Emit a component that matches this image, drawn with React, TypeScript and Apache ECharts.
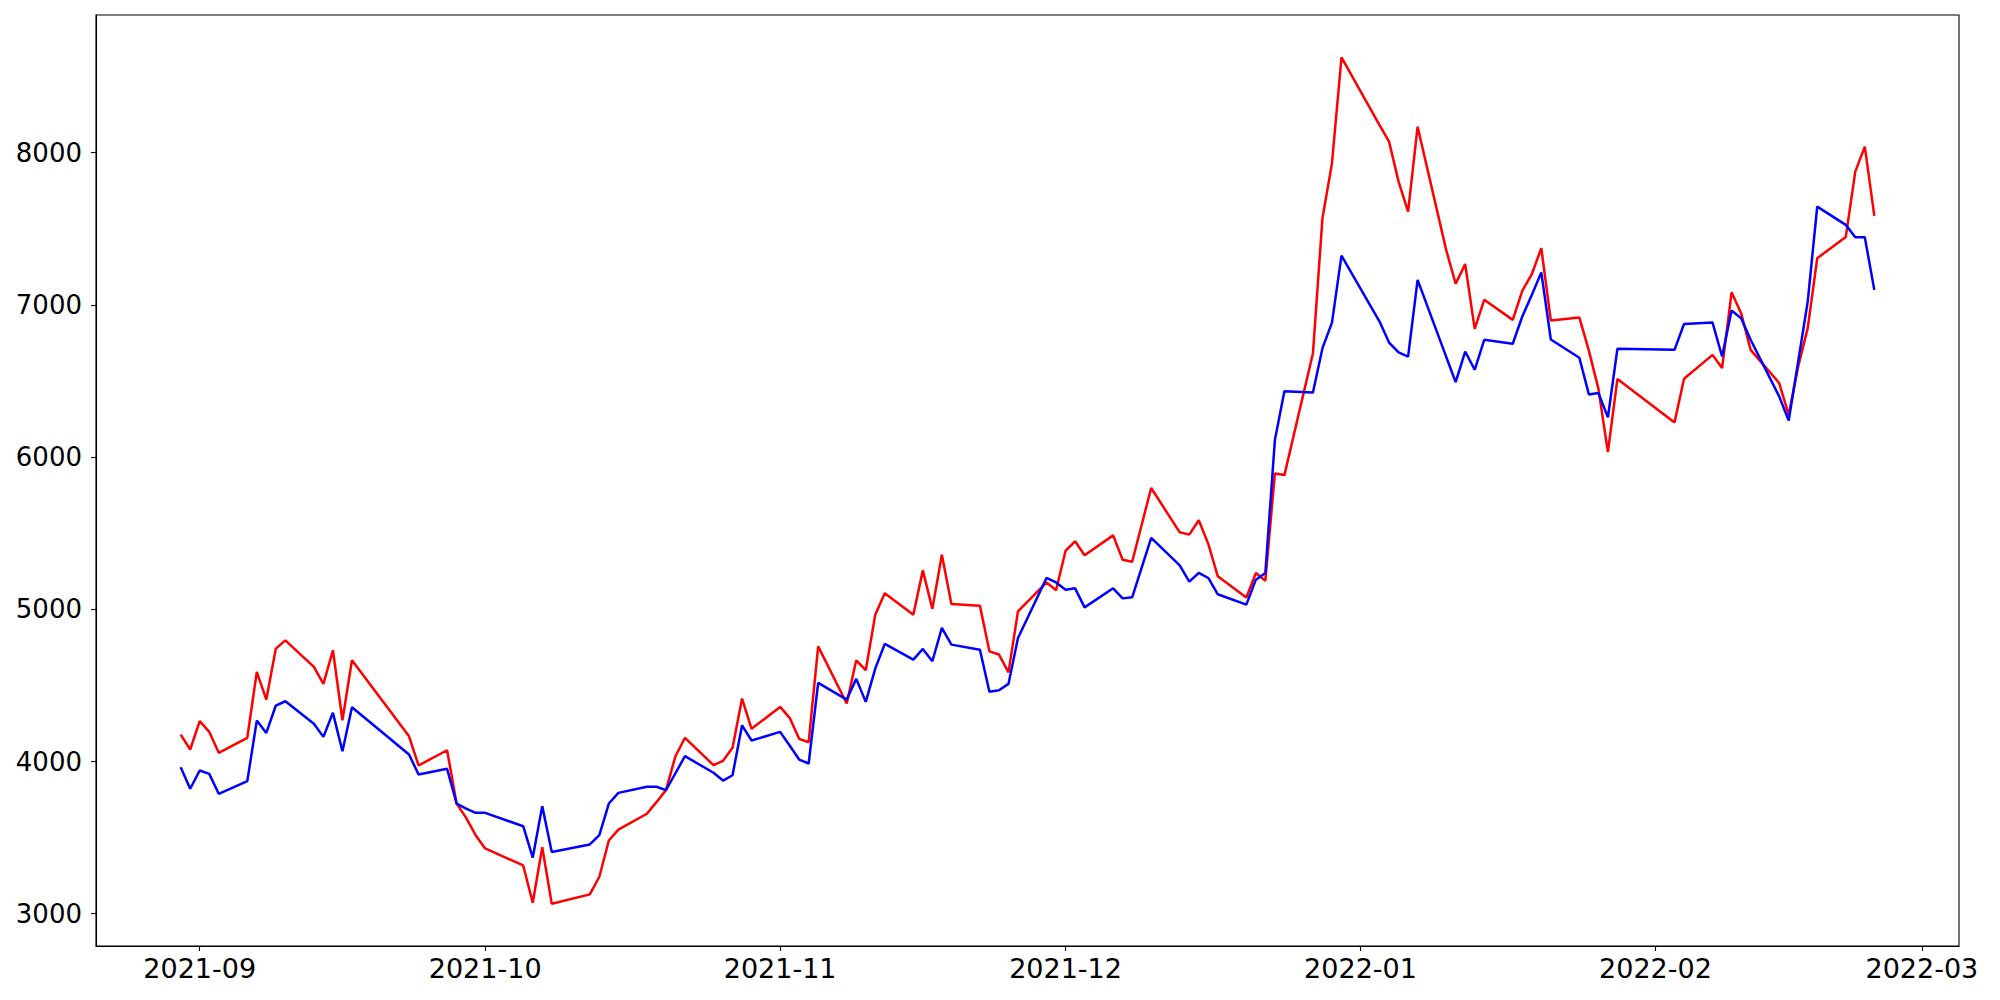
import React, { useEffect, useRef } from "react";
import * as echarts from "echarts";

const dates: string[] = [
  "2021-08-30", "2021-08-31", "2021-09-01", "2021-09-02", "2021-09-03",
  "2021-09-06", "2021-09-07", "2021-09-08", "2021-09-09", "2021-09-10",
  "2021-09-13", "2021-09-14", "2021-09-15", "2021-09-16", "2021-09-17",
  "2021-09-23", "2021-09-24", "2021-09-27", "2021-09-28", "2021-09-29",
  "2021-09-30", "2021-10-01", "2021-10-05", "2021-10-06", "2021-10-07",
  "2021-10-08", "2021-10-12", "2021-10-13", "2021-10-14", "2021-10-15",
  "2021-10-18", "2021-10-19", "2021-10-20", "2021-10-21", "2021-10-22",
  "2021-10-25", "2021-10-26", "2021-10-27", "2021-10-28", "2021-10-29",
  "2021-11-01", "2021-11-02", "2021-11-03", "2021-11-04", "2021-11-05",
  "2021-11-08", "2021-11-09", "2021-11-10", "2021-11-11", "2021-11-12",
  "2021-11-15", "2021-11-16", "2021-11-17", "2021-11-18", "2021-11-19",
  "2021-11-22", "2021-11-23", "2021-11-24", "2021-11-25", "2021-11-26",
  "2021-11-29", "2021-11-30", "2021-12-01", "2021-12-02", "2021-12-03",
  "2021-12-06", "2021-12-07", "2021-12-08", "2021-12-09", "2021-12-10",
  "2021-12-13", "2021-12-14", "2021-12-15", "2021-12-16", "2021-12-17",
  "2021-12-20", "2021-12-21", "2021-12-22", "2021-12-23", "2021-12-24",
  "2021-12-27", "2021-12-28", "2021-12-29", "2021-12-30",
  "2022-01-03", "2022-01-04", "2022-01-05", "2022-01-06", "2022-01-07",
  "2022-01-10", "2022-01-11", "2022-01-12", "2022-01-13", "2022-01-14",
  "2022-01-17", "2022-01-18", "2022-01-19", "2022-01-20", "2022-01-21",
  "2022-01-24", "2022-01-25", "2022-01-26", "2022-01-27", "2022-01-28",
  "2022-02-03", "2022-02-04",
  "2022-02-07", "2022-02-08", "2022-02-09", "2022-02-10", "2022-02-11",
  "2022-02-14", "2022-02-15", "2022-02-16", "2022-02-17", "2022-02-18",
  "2022-02-21", "2022-02-22", "2022-02-23", "2022-02-24",
];

const redValues: number[] = [
  4177, 4079, 4265, 4195, 4057,
  4156, 4589, 4407, 4742, 4796,
  4622, 4510, 4731, 4271, 4665,
  4166, 3974, 4074, 3724, 3630,
  3516, 3429, 3317, 3072, 3437,
  3066, 3127, 3243, 3481, 3553,
  3657, 3733, 3812, 4035, 4156,
  3976, 4005, 4090, 4414, 4215,
  4359, 4287, 4149, 4127, 4757,
  4381, 4665, 4600, 4965, 5105,
  4965, 5256, 5003, 5359, 5035,
  5024, 4724, 4703, 4586, 4987,
  5177, 5125, 5385, 5447, 5355,
  5486, 5326, 5313, 5556, 5797,
  5506, 5491, 5585, 5430, 5217,
  5078, 5239, 5188, 5893, 5882,
  6683, 7570, 7931, 8627,
  8182, 8073, 7810, 7613, 8171,
  7362, 7139, 7268, 6843, 7034,
  6902, 7093, 7202, 7373, 6898,
  6917, 6700, 6450, 6033, 6514,
  6228, 6515,
  6672, 6585, 7083, 6946, 6705,
  6487, 6278, 6596, 6848, 7307,
  7447, 7876, 8040, 7585,
];

const blueValues: number[] = [
  3963, 3821, 3941, 3919, 3788,
  3871, 4269, 4188, 4368, 4396,
  4248, 4162, 4320, 4068, 4357,
  4046, 3915, 3952, 3724, 3690,
  3663, 3663, 3575, 3368, 3707,
  3405, 3455, 3516, 3724, 3794,
  3834, 3834, 3812, 3923, 4035,
  3926, 3875, 3910, 4238, 4138,
  4195, 4105, 4013, 3987, 4517,
  4407, 4543, 4392, 4611, 4773,
  4670, 4740, 4659, 4878, 4768,
  4735, 4458, 4468, 4510, 4812,
  5206, 5177, 5129, 5138, 5013,
  5138, 5072, 5079, 5274, 5469,
  5289, 5182, 5239, 5206, 5099,
  5031, 5195, 5239, 6112, 6433,
  6425, 6716, 6884, 7324,
  6891, 6753, 6688, 6661, 7165,
  6660, 6493, 6694, 6574, 6771,
  6745, 6924, 7066, 7214, 6773,
  6653, 6412, 6421, 6261, 6712,
  6705, 6875,
  6884, 6661, 6963, 6913, 6771,
  6399, 6241, 6628, 7022, 7646,
  7526, 7445, 7445, 7099,
];

const yTicks: number[] = [3000, 4000, 5000, 6000, 7000, 8000];
const monthTicks: string[] = [
  "2021-09-01", "2021-10-01", "2021-11-01", "2021-12-01",
  "2022-01-01", "2022-02-01", "2022-03-01",
];

function toTime(s: string): number {
  const [y, m, d] = s.split("-").map(Number);
  return Date.UTC(y, m - 1, d);
}

export default function App() {
  const ref = useRef<HTMLDivElement>(null);

  useEffect(() => {
    if (!ref.current) return;
    const chart = echarts.init(ref.current, null, { renderer: "svg" });

    const t0 = toTime(dates[0]);
    const t1 = toTime(dates[dates.length - 1]);
    const xPad = (t1 - t0) * 0.05;
    const allVals = redValues.concat(blueValues);
    const vMin = Math.min(...allVals);
    const vMax = Math.max(...allVals);
    const yPad = (vMax - vMin) * 0.05;
    const xTickValues = monthTicks.map(toTime);

    chart.setOption({
      animation: false,
      backgroundColor: "#fff",
      grid: {
        left: 96,
        right: 41,
        top: 15,
        bottom: 54,
        show: true,
        borderColor: "#000",
        borderWidth: 1.1,
        backgroundColor: "transparent",
      },
      xAxis: {
        type: "value",
        min: t0 - xPad,
        max: t1 + xPad,
        splitLine: { show: false },
        axisLine: { show: true, onZero: false, lineStyle: { color: "#000", width: 1.1 } },
        axisTick: {
          show: true,
          length: 5,
          inside: false,
          lineStyle: { color: "#000", width: 1.1 },
          customValues: xTickValues,
        },
        axisLabel: {
          fontFamily: "DejaVu Sans",
          fontSize: 27,
          color: "#000",
          margin: 9,
          customValues: xTickValues,
          formatter: (v: number) => {
            const d = new Date(v);
            return d.getUTCFullYear() + "-" + String(d.getUTCMonth() + 1).padStart(2, "0");
          },
        },
      },
      yAxis: {
        type: "value",
        min: vMin - yPad,
        max: vMax + yPad,
        splitLine: { show: false },
        axisLine: { show: true, onZero: false, lineStyle: { color: "#000", width: 1.1 } },
        axisTick: {
          show: true,
          length: 5,
          inside: false,
          lineStyle: { color: "#000", width: 1.1 },
          customValues: yTicks,
        },
        axisLabel: {
          fontFamily: "DejaVu Sans",
          fontSize: 26,
          color: "#000",
          margin: 14,
          customValues: yTicks,
          formatter: (v: number) => String(v),
        },
      },
      series: [
        {
          type: "line",
          name: "red",
          data: dates.map((d, i) => [toTime(d), redValues[i]]),
          showSymbol: false,
          lineStyle: { color: "#ff0000", width: 2.5 },
          itemStyle: { color: "#ff0000" },
        },
        {
          type: "line",
          name: "blue",
          data: dates.map((d, i) => [toTime(d), blueValues[i]]),
          showSymbol: false,
          lineStyle: { color: "#0000ff", width: 2.5 },
          itemStyle: { color: "#0000ff" },
        },
      ],
    });

    return () => chart.dispose();
  }, []);

  return (
    <div
      ref={ref}
      style={{ position: "absolute", left: 0, top: 0, width: 2000, height: 1000 }}
    />
  );
}
